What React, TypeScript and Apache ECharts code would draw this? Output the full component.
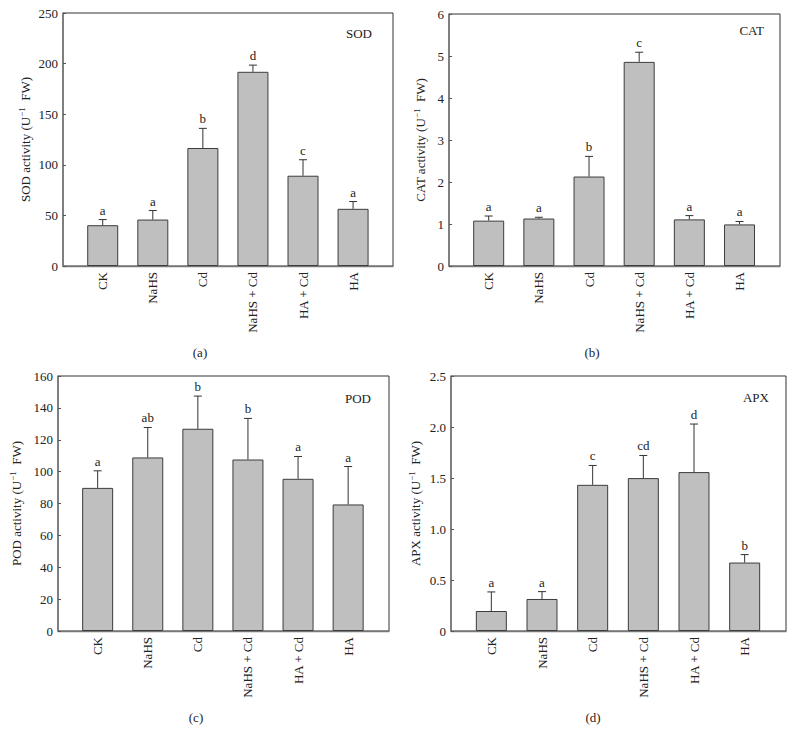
import React, { useEffect, useRef } from 'react';
import * as echarts from 'echarts';

const FONT = "'Liberation Serif', 'Times New Roman', Times, serif";

const categories = ['CK', 'NaHS', 'Cd', 'NaHS + Cd', 'HA + Cd', 'HA'];

const sodMean = [40.3, 45.9, 116.6, 191.9, 89.2, 56.5];
const sodErr = [5.6, 8.9, 19.4, 6.6, 15.8, 7.2];
const sodLetters = ['a', 'a', 'b', 'd', 'c', 'a'];

const catMean = [1.08, 1.13, 2.13, 4.86, 1.11, 0.99];
const catErr = [0.11, 0.03, 0.48, 0.23, 0.09, 0.07];
const catLetters = ['a', 'a', 'b', 'c', 'a', 'a'];

const podMean = [89.8, 108.9, 126.9, 107.6, 95.5, 79.4];
const podErr = [10.7, 18.8, 20.5, 25.8, 14.0, 23.8];
const podLetters = ['a', 'ab', 'b', 'b', 'a', 'a'];

const apxMean = [0.196, 0.314, 1.433, 1.499, 1.558, 0.671];
const apxErr = [0.187, 0.072, 0.19, 0.222, 0.471, 0.078];
const apxLetters = ['a', 'a', 'c', 'cd', 'd', 'b'];

const panels = [
  {
    enzyme: 'SOD', caption: '(a)', mean: sodMean, err: sodErr, letters: sodLetters,
    max: 250, step: 50, fmt: (v: number) => String(v),
    box: [63, 13, 393, 266], barLeft: 77.7, barWidth: 300.4, nameGap: 29,
    titlePos: [372, 33], captionPos: [200, 352],
  },
  {
    enzyme: 'CAT', caption: '(b)', mean: catMean, err: catErr, letters: catLetters,
    max: 6, step: 1, fmt: (v: number) => String(v),
    box: [449, 14, 780, 266], barLeft: 463.6, barWidth: 301, nameGap: 20,
    titlePos: [764, 30], captionPos: [592, 352],
  },
  {
    enzyme: 'POD', caption: '(c)', mean: podMean, err: podErr, letters: podLetters,
    max: 160, step: 20, fmt: (v: number) => String(v),
    box: [58, 376, 389, 631], barLeft: 72.6, barWidth: 300.6, nameGap: 33,
    titlePos: [371, 398], captionPos: [196, 717],
  },
  {
    enzyme: 'APX', caption: '(d)', mean: apxMean, err: apxErr, letters: apxLetters,
    max: 2.5, step: 0.5, fmt: (v: number) => (v === 0 ? '0' : v.toFixed(1)),
    box: [451, 376, 786, 631], barLeft: 466, barWidth: 304, nameGap: 27,
    titlePos: [769, 397], captionPos: [593, 717],
  },
];

function buildOption() {
  const grid: any[] = [];
  const xAxis: any[] = [];
  const yAxis: any[] = [];
  const series: any[] = [];
  const graphic: any[] = [];

  panels.forEach((p, k) => {
    const gBox = 2 * k;
    const gBar = 2 * k + 1;
    const [L, T, R, B] = p.box;
    grid.push({
      left: L, top: T, width: R - L, height: B - T,
      show: true, borderColor: '#333', borderWidth: 1, backgroundColor: 'transparent',
    });
    grid.push({ left: p.barLeft, top: T, width: p.barWidth, height: B - T });

    xAxis.push({
      gridIndex: gBox, type: 'value', min: 0, max: 1,
      axisLine: { show: true, lineStyle: { color: '#777', width: 1.3 } },
      axisTick: { show: false }, axisLabel: { show: false }, splitLine: { show: false },
    });
    yAxis.push({
      gridIndex: gBox, type: 'value', min: 0, max: p.max, interval: p.step,
      axisLine: { show: true, onZero: false, lineStyle: { color: '#777', width: 1.5 } },
      axisTick: { show: true, inside: true, length: 3, lineStyle: { color: '#555' } },
      axisLabel: { fontFamily: FONT, fontSize: 13, color: '#222', margin: 5, formatter: p.fmt },
      splitLine: { show: false },
      name: `{n|${p.enzyme} activity (U}{s|−1}{n|  FW)}`,
      nameLocation: 'middle', nameGap: p.nameGap,
      nameTextStyle: {
        rich: {
          n: { fontFamily: FONT, fontSize: 13, color: '#222', lineHeight: 17 },
          s: { fontFamily: FONT, fontSize: 9, color: '#222', verticalAlign: 'top', lineHeight: 10 },
        },
      },
    });
    xAxis.push({
      gridIndex: gBar, type: 'category', data: categories,
      axisLine: { show: false }, axisTick: { show: false },
      axisLabel: { rotate: 90, fontFamily: FONT, fontSize: 13, color: '#222', margin: 6, interval: 0 },
    });
    yAxis.push({ gridIndex: gBar, type: 'value', min: 0, max: p.max, show: false, splitLine: { show: false } });

    series.push({
      type: 'bar', xAxisIndex: gBar, yAxisIndex: gBar, data: p.mean, barWidth: 31,
      itemStyle: { color: '#bfbfbf', borderColor: '#3c3c3c', borderWidth: 1 },
      silent: true,
    });
    const letters = p.letters;
    series.push({
      type: 'custom', xAxisIndex: gBar, yAxisIndex: gBar, clip: false, z: 3, silent: true,
      itemStyle: { color: '#222' },
      data: p.mean.map((m, i) => [i, m, m + p.err[i]]),
      renderItem: (params: any, api: any) => {
        const i = api.value(0);
        const base = api.coord([i, api.value(1)]);
        const top = api.coord([i, api.value(2)]);
        const x = base[0];
        return {
          type: 'group',
          children: [
            { type: 'line', shape: { x1: x, y1: base[1], x2: x, y2: top[1] }, style: { stroke: '#333', lineWidth: 1 } },
            { type: 'line', shape: { x1: x - 4, y1: top[1], x2: x + 4, y2: top[1] }, style: { stroke: '#333', lineWidth: 1 } },
            {
              type: 'text', x, y: top[1] - 3,
              style: { text: letters[params.dataIndex], fontFamily: FONT, fontSize: 13, fill: '#222', align: 'center', verticalAlign: 'bottom' },
            },
          ],
        };
      },
    });

    graphic.push({
      type: 'text', x: p.titlePos[0], y: p.titlePos[1],
      style: { text: p.enzyme, fontFamily: FONT, fontSize: 13, fill: '#222', align: 'right', verticalAlign: 'middle' },
    });
    graphic.push({
      type: 'text', x: p.captionPos[0], y: p.captionPos[1],
      style: { text: p.caption, fontFamily: FONT, fontSize: 13, fill: '#222', align: 'center', verticalAlign: 'middle' },
    });
  });

  return { animation: false, backgroundColor: '#fff', grid, xAxis, yAxis, series, graphic };
}

export default function App() {
  const ref = useRef<HTMLDivElement>(null);
  useEffect(() => {
    const chart = echarts.init(ref.current!, null, { renderer: 'svg' });
    chart.setOption(buildOption() as any);
    return () => chart.dispose();
  }, []);
  return <div ref={ref} style={{ position: 'fixed', left: 0, top: 0, width: 794, height: 730 }} />;
}
